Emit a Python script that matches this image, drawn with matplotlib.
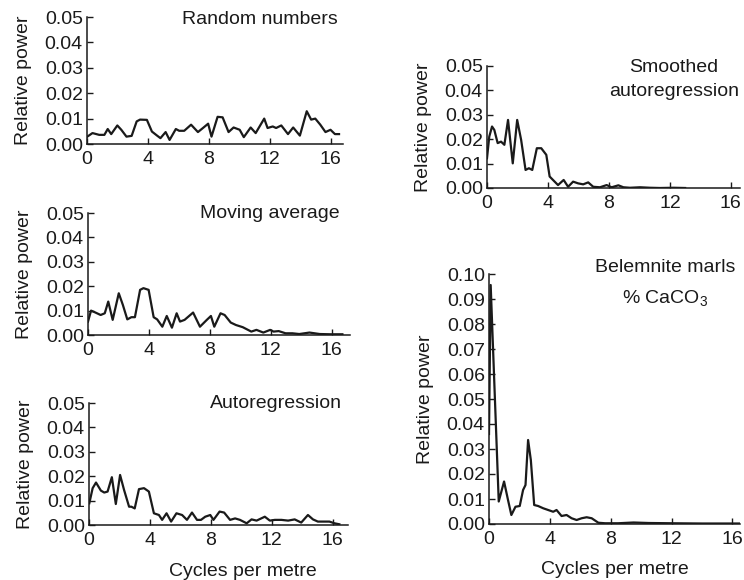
import matplotlib
matplotlib.use("Agg")
import matplotlib.pyplot as plt

plt.rcParams['font.family'] = ['Liberation Sans', 'DejaVu Sans']
plt.rcParams['font.size'] = 14
plt.rcParams['mathtext.fontset'] = 'custom'
plt.rcParams['mathtext.rm'] = 'Liberation Sans'

# ---- data (frequency in cycles per metre, relative power) ----
rand_f = [0.02, 0.36, 0.80, 1.14, 1.36, 1.59, 1.99, 2.25, 2.59, 2.93, 3.26, 3.48, 3.93, 4.26, 4.60,
          4.82, 5.16, 5.42, 5.83, 6.05, 6.38, 6.83, 7.28, 7.61, 7.95, 8.17, 8.57, 8.90, 9.29, 9.62,
          10.02, 10.29, 10.74, 11.07, 11.63, 11.85, 12.19, 12.41, 12.75, 13.19, 13.53, 13.97, 14.42,
          14.71, 14.98, 15.31, 15.65, 15.98, 16.27, 16.54]
rand_p = [0.0029, 0.0043, 0.0036, 0.0036, 0.0059, 0.0039, 0.0073, 0.0056, 0.0029, 0.0032, 0.0089,
          0.0096, 0.0095, 0.0049, 0.0033, 0.0023, 0.0047, 0.0016, 0.0059, 0.0052, 0.0052, 0.0076,
          0.0047, 0.0063, 0.0080, 0.0029, 0.0107, 0.0105, 0.0047, 0.0065, 0.0056, 0.0027, 0.0065,
          0.0043, 0.0100, 0.0063, 0.0069, 0.0063, 0.0073, 0.0039, 0.0065, 0.0033, 0.0129, 0.0096,
          0.0100, 0.0076, 0.0047, 0.0056, 0.0039, 0.0039]

mavg_f = [0.0, 0.20, 0.49, 0.83, 1.10, 1.33, 1.62, 2.02, 2.29, 2.58, 2.85, 3.08, 3.42, 3.64, 3.98,
          4.31, 4.54, 4.88, 5.17, 5.51, 5.82, 6.04, 6.34, 6.90, 7.35, 7.80, 8.07, 8.29, 8.70, 8.97,
          9.37, 9.71, 10.16, 10.72, 11.06, 11.51, 11.96, 12.18, 12.52, 12.97, 13.42, 13.87, 14.54,
          15.21, 15.89, 16.70]
mavg_p = [0.0055, 0.0100, 0.0092, 0.0082, 0.0089, 0.0137, 0.0062, 0.0171, 0.0123, 0.0064, 0.0073,
          0.0073, 0.0185, 0.0192, 0.0185, 0.0073, 0.0064, 0.0034, 0.0078, 0.0030, 0.0089, 0.0055,
          0.0062, 0.0092, 0.0034, 0.0062, 0.0078, 0.0034, 0.0089, 0.0082, 0.0051, 0.0041, 0.0032,
          0.0014, 0.0021, 0.0010, 0.0021, 0.0014, 0.0016, 0.0007, 0.0007, 0.0004, 0.0010, 0.0004,
          0.0003, 0.0003]

ar_f = [0.02, 0.24, 0.46, 0.78, 1.00, 1.22, 1.50, 1.76, 2.04, 2.30, 2.63, 2.78, 3.00, 3.28, 3.61,
        3.93, 4.26, 4.59, 4.80, 5.09, 5.39, 5.74, 6.11, 6.43, 6.76, 7.09, 7.35, 7.63, 7.96, 8.17,
        8.57, 8.87, 9.26, 9.59, 9.91, 10.35, 10.67, 11.00, 11.54, 11.87, 12.20, 12.63, 13.07, 13.50,
        13.93, 14.37, 14.70, 15.02, 15.35, 15.78, 16.11, 16.43]
ar_p = [0.0089, 0.0151, 0.0174, 0.0141, 0.0133, 0.0137, 0.0196, 0.0086, 0.0205, 0.0144, 0.0075,
        0.0075, 0.0068, 0.0147, 0.0151, 0.0137, 0.0048, 0.0041, 0.0021, 0.0048, 0.0014, 0.0048,
        0.0041, 0.0021, 0.0051, 0.0021, 0.0021, 0.0034, 0.0041, 0.0021, 0.0055, 0.0051, 0.0021,
        0.0027, 0.0021, 0.0007, 0.0023, 0.0018, 0.0034, 0.0018, 0.0021, 0.0021, 0.0018, 0.0023,
        0.0010, 0.0041, 0.0023, 0.0014, 0.0014, 0.0014, 0.0007, 0.0003]

sar_f = [0.0, 0.15, 0.33, 0.48, 0.70, 0.92, 1.14, 1.38, 1.69, 1.98, 2.24, 2.53, 2.75, 2.97, 3.27,
         3.56, 3.89, 4.11, 4.33, 4.66, 5.03, 5.32, 5.65, 5.98, 6.31, 6.64, 6.97, 7.41, 7.85, 8.18,
         8.62, 8.95, 9.38, 10.04, 10.70, 11.36, 12.24, 13.0]
sar_p = [0.0122, 0.0211, 0.0252, 0.0238, 0.0184, 0.0190, 0.0177, 0.0279, 0.0101, 0.0279, 0.0197,
         0.0074, 0.0081, 0.0074, 0.0163, 0.0163, 0.0136, 0.0047, 0.0033, 0.0012, 0.0033, 0.0005,
         0.0026, 0.0019, 0.0015, 0.0023, 0.0005, 0.0003, 0.0012, 0.0003, 0.0011, 0.0003, 0.0001,
         0.0003, 0.0001, 0.0000, 0.0001, 0.0000]

bel_f = [0.0, 0.11, 0.64, 0.99, 1.25, 1.47, 1.74, 2.02, 2.24, 2.40, 2.57, 2.75, 2.97, 3.23, 3.56,
         3.89, 4.22, 4.44, 4.77, 5.10, 5.43, 5.76, 6.09, 6.42, 6.75, 7.19, 7.63, 8.5, 9.5, 10.5,
         12.0, 14.0, 16.5]
bel_p = [0.036, 0.0956, 0.0090, 0.0170, 0.0096, 0.0036, 0.0069, 0.0072, 0.0136, 0.0156, 0.0336,
         0.0256, 0.0076, 0.0072, 0.0063, 0.0056, 0.0049, 0.0056, 0.0032, 0.0036, 0.0023, 0.0016,
         0.0023, 0.0027, 0.0023, 0.0005, 0.0003, 0.0003, 0.0006, 0.0004, 0.0003, 0.0002, 0.0002]

x_ticks = [0, 4, 8, 12, 16]
small_yticks = [0.00, 0.01, 0.02, 0.03, 0.04, 0.05]
big_yticks = [0.00, 0.01, 0.02, 0.03, 0.04, 0.05, 0.06, 0.07, 0.08, 0.09, 0.10]

W, H = 744, 580
fig = plt.figure(figsize=(W / 100, H / 100), dpi=100)
ink = '#1a1a1a'


def px_axes(left, top, right, bottom):
    return fig.add_axes([left / W, 1 - bottom / H, (right - left) / W, (bottom - top) / H])


def style(ax, yticks, xmax):
    ax.set_xlim(0, xmax)
    ax.set_ylim(0, yticks[-1])
    ax.set_xticks(x_ticks)
    ax.set_yticks(yticks)
    ax.set_yticklabels([f"{t:.2f}" for t in yticks])
    for s in ['top', 'right']:
        ax.spines[s].set_visible(False)
    for s in ['left', 'bottom']:
        ax.spines[s].set_color(ink)
        ax.spines[s].set_linewidth(1.1)
    ax.tick_params(axis='both', direction='in', length=4, width=1, colors=ink, labelcolor=ink)
    ax.tick_params(axis='x', pad=5)
    ax.tick_params(axis='y', pad=3)
    ax.set_ylabel('Relative power', color=ink, labelpad=9)
    ax.patch.set_alpha(0)


panels = [
    ((87, 17, 343, 144), rand_f, rand_p, small_yticks, 16.8),
    ((88, 213, 350, 335), mavg_f, mavg_p, small_yticks, 17.2),
    ((89, 403, 348, 525), ar_f, ar_p, small_yticks, 17.0),
    ((487, 66, 740, 188), sar_f, sar_p, small_yticks, 16.6),
    ((489, 274, 740, 524), bel_f, bel_p, big_yticks, 16.5),
]
for (l, t, r, b), f, p, yt, xm in panels:
    ax = px_axes(l, t, r, b)
    ax.plot(f, p, color=ink, lw=1.6, solid_joinstyle='round')
    style(ax, yt, xm)

# panel titles
fig.text(338 / W, 1 - 20 / H, 'Random numbers', ha='right', va='center', color=ink)
fig.text(340 / W, 1 - 213 / H, 'Moving average', ha='right', va='center', color=ink)
fig.text(342 / W, 1 - 403 / H, 'Autoregression', ha='right', va='center', color=ink)
fig.text(674 / W, 1 - 67 / H, 'Smoothed', ha='center', va='center', color=ink)
fig.text(674 / W, 1 - 92 / H, 'autoregression', ha='center', va='center', color=ink)
fig.text(665 / W, 1 - 267 / H, 'Belemnite marls', ha='center', va='center', color=ink)
fig.text(665 / W, 1 - 299 / H, '% CaCO$_3$', ha='center', va='center', color=ink)

# x-axis labels
fig.text(243 / W, 1 - 572 / H, 'Cycles per metre', ha='center', va='center', color=ink)
fig.text(615 / W, 1 - 570 / H, 'Cycles per metre', ha='center', va='center', color=ink)

fig.savefig('out.png', dpi=100)
